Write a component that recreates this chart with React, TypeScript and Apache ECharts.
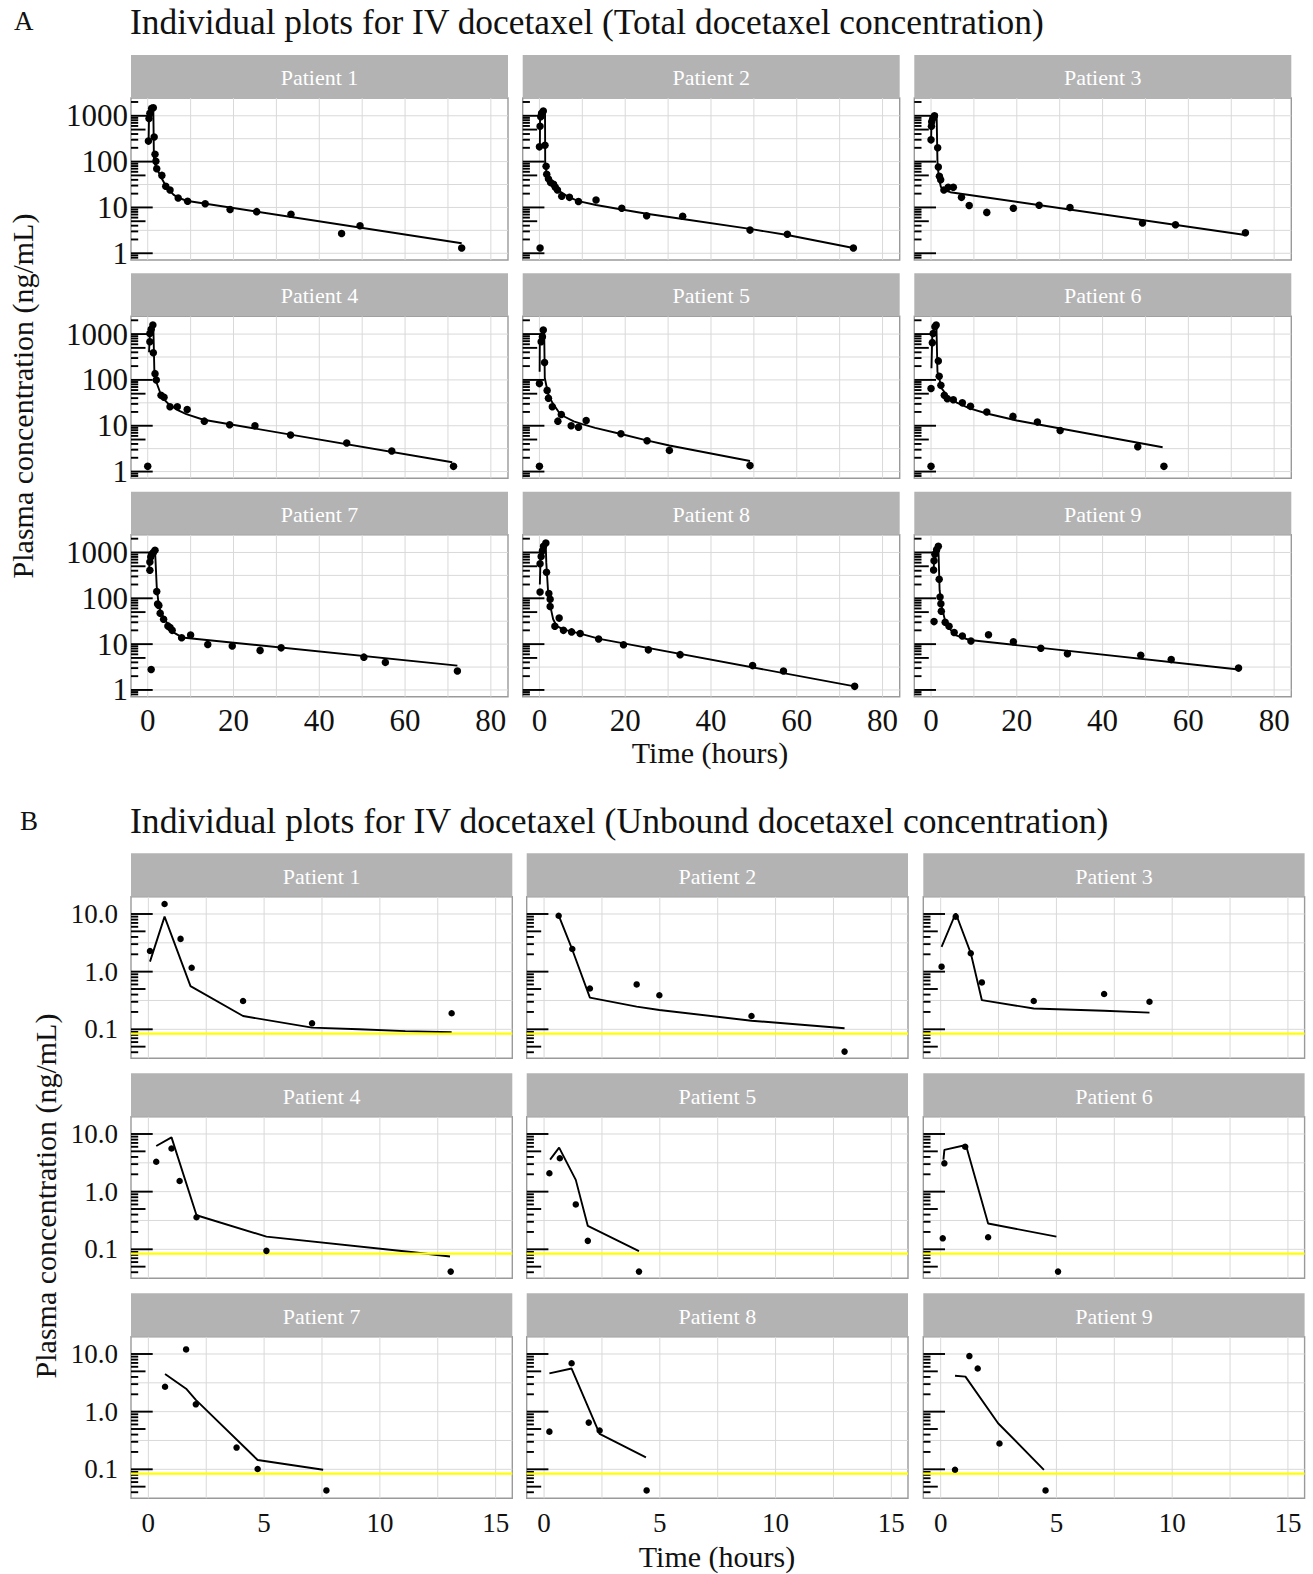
import React, { useEffect, useRef } from 'react';
import * as echarts from 'echarts';

// ---------------- DATA ----------------
const PATIENTS = ['Patient 1', 'Patient 2', 'Patient 3', 'Patient 4', 'Patient 5', 'Patient 6', 'Patient 7', 'Patient 8', 'Patient 9'];

// Panel A: total docetaxel, observed [time h, conc ng/mL]
const totObs1 = [[0.16, 280], [0.3, 870], [0.5, 1130], [0.9, 1450], [1.3, 1500], [1.5, 345], [1.7, 145], [1.9, 102], [2.1, 70], [3.3, 50], [4.2, 29], [5.2, 24], [7.1, 16], [9.3, 13.6], [13.4, 12], [19.2, 9], [25.4, 8.1], [33.4, 7.1], [45.2, 2.7], [49.5, 4], [73.2, 1.3]];
const totObs2 = [[0.15, 1.3], [0.15, 590], [0, 210], [0.3, 950], [0.5, 1130], [0.9, 1270], [1.3, 228], [1.55, 79], [1.7, 53], [2.1, 42], [2.6, 35], [3.3, 32], [3.7, 27.5], [4.2, 24], [5.2, 17.5], [7, 16.6], [9.1, 13.5], [13.2, 14.5], [19.2, 9.6], [25, 6.6], [33.4, 6.4], [49.1, 3.2], [57.8, 2.6], [73.2, 1.3]];
const totObs3 = [[0, 300], [0.1, 590], [0.15, 740], [0.4, 870], [0.8, 1000], [1.55, 200], [1.7, 76], [1.95, 48], [2.25, 40], [3.0, 24], [4.0, 27.5], [5.2, 27.5], [7.1, 16.6], [8.9, 11], [13, 7.8], [19.2, 9.6], [25.2, 11.2], [32.4, 10], [49.3, 4.6], [57, 4.2], [73.3, 2.8]];
const totObs4 = [[0, 1.3], [0.5, 680], [0.5, 1030], [0.8, 1270], [1.2, 1580], [1.3, 390], [1.7, 137], [2.0, 100], [3.1, 46], [3.8, 42], [5.2, 26], [6.9, 26], [9.2, 22.5], [13.2, 12.6], [19.1, 10.5], [25, 10], [33.3, 6.3], [46.4, 4.2], [56.9, 2.8], [71.3, 1.3]];
const totObs5 = [[0, 1.3], [0, 83], [0.4, 680], [0.7, 870], [0.9, 1230], [1.2, 240], [1.8, 59], [2.1, 40], [3.0, 26], [4.3, 12.6], [5.1, 17.6], [7.4, 10], [9.1, 9.3], [10.9, 13], [19.0, 6.7], [25.1, 4.7], [30.3, 2.9], [49.1, 1.35]];
const totObs6 = [[0, 1.3], [0, 65], [0.3, 650], [0.5, 1030], [0.9, 1450], [1.2, 1580], [1.7, 260], [1.9, 120], [2.3, 76], [3.1, 46], [3.8, 39], [5.2, 37], [7.3, 31.6], [9.2, 26.5], [13.0, 20], [19.1, 16], [24.8, 12], [30.1, 7.9], [48.2, 3.5], [54.3, 1.3]];
const totObs7 = [[0.8, 2.8], [0.5, 410], [0.5, 620], [0.7, 800], [0.9, 900], [1.3, 1000], [1.7, 1120], [2.1, 140], [2.3, 75], [2.6, 70], [2.9, 47], [3.7, 35], [4.7, 25], [5.2, 23], [5.7, 20], [7.9, 13.8], [10.0, 15.8], [14.0, 9.8], [19.7, 9.1], [26.2, 7.3], [31.1, 8.3], [50.4, 5.2], [55.4, 4.0], [72.2, 2.6]];
const totObs8 = [[0.15, 137], [0.15, 570], [0.4, 820], [0.7, 1090], [0.95, 1360], [1.5, 1610], [1.65, 370], [2.2, 127], [2.5, 95], [2.5, 66], [3.6, 24.5], [4.6, 37], [5.6, 20], [7.5, 18.5], [9.5, 17], [13.8, 13], [19.6, 9.7], [25.4, 7.5], [32.8, 5.9], [49.7, 3.4], [56.9, 2.6], [73.5, 1.2]];
const totObs9 = [[0.7, 31], [0.6, 415], [0.7, 660], [0.9, 920], [1.3, 1140], [1.7, 1360], [1.9, 260], [2.1, 107], [2.3, 76], [2.4, 52], [3.3, 30], [4.2, 24.5], [5.4, 18], [7.3, 15], [9.3, 11.7], [13.4, 16], [19.2, 11.3], [25.6, 8.1], [31.8, 6.2], [48.9, 5.7], [56.0, 4.6], [71.7, 3.0]];

// Panel A: total docetaxel, model prediction
const totPred1 = [[0.2, 260], [0.3, 900], [0.9, 1400], [1.3, 1550], [1.45, 100], [2, 75], [3, 48], [4, 32], [5, 24], [6, 19], [7, 16.5], [9, 14], [73.2, 1.65]];
const totPred2 = [[0.1, 200], [0.15, 950], [0.9, 1250], [1.3, 1300], [1.35, 85], [1.7, 55], [2.1, 44], [2.6, 37], [3.3, 31], [4.2, 25], [5.2, 21], [7, 16.5], [9.1, 13.7], [13.2, 11.3], [19.2, 9.0], [25, 7.3], [33.4, 5.6], [49.1, 3.4], [57.8, 2.5], [73.2, 1.3]];
const totPred3 = [[0, 250], [0.1, 700], [0.8, 1050], [1.3, 1100], [1.5, 100], [1.8, 45], [2.3, 28], [3, 24], [4.5, 21.5], [73.3, 2.5]];
const totPred4 = [[0.3, 400], [0.5, 1000], [1.1, 1500], [1.3, 1600], [1.55, 150], [2, 90], [3, 50], [4, 36], [5, 29], [7, 22], [9, 18], [13, 13.5], [71, 1.6]];
const totPred5 = [[0.05, 150], [0.1, 900], [0.9, 1250], [1.1, 1300], [1.25, 110], [2, 50], [3, 32], [4.5, 20], [6, 15.5], [8, 12.5], [10, 10.8], [13, 9], [19, 6.6], [25, 4.8], [30.3, 3.7], [49.1, 1.7]];
const totPred6 = [[0.1, 180], [0.3, 1000], [0.9, 1500], [1.25, 1600], [1.5, 150], [2.5, 65], [4, 42], [6, 32], [9, 24], [13, 18.5], [20, 13], [54, 3.4]];
const totPred7 = [[0.3, 400], [0.5, 900], [1.7, 1150], [2.1, 180], [2.6, 65], [3.7, 38], [4.8, 26], [6, 18], [8, 14], [72.2, 3.4]];
const totPred8 = [[0.1, 200], [0.3, 1000], [1.45, 1700], [1.6, 600], [2.0, 150], [2.5, 70], [3.2, 35], [4, 25], [5.5, 21], [9.5, 17], [14, 13], [73.5, 1.2]];
const totPred9 = [[0.6, 400], [0.8, 1000], [1.7, 1450], [2.0, 150], [2.5, 65], [3.2, 35], [4.3, 22], [5.5, 16], [9, 12.3], [71.7, 2.8]];

// Panel B: unbound docetaxel, observed
const unbObs1 = [[0.07, 2.28], [0.7, 14.9], [1.39, 3.7], [1.87, 1.17], [4.09, 0.31], [7.07, 0.127], [13.1, 0.19]];
const unbObs2 = [[0.63, 9.3], [1.22, 2.47], [1.98, 0.51], [4.0, 0.6], [4.98, 0.39], [8.96, 0.17], [12.98, 0.041]];
const unbObs3 = [[0.04, 1.22], [0.65, 9.0], [1.3, 2.08], [1.78, 0.65], [4.02, 0.31], [7.06, 0.41], [9.02, 0.30]];
const unbObs4 = [[0.34, 3.3], [1.0, 5.6], [1.35, 1.53], [2.08, 0.36], [5.1, 0.094], [13.06, 0.041]];
const unbObs5 = [[0.23, 2.08], [0.68, 3.8], [1.37, 0.6], [1.89, 0.14], [4.1, 0.041]];
const unbObs6 = [[0.09, 0.155], [0.16, 3.1], [1.06, 6.0], [2.05, 0.162], [5.07, 0.041]];
const unbObs7 = [[0.72, 2.7], [1.63, 12], [2.05, 1.34], [3.81, 0.238], [4.72, 0.101], [7.69, 0.043]];
const unbObs8 = [[0.23, 0.45], [1.19, 6.9], [1.93, 0.645], [2.4, 0.47], [4.43, 0.043]];
const unbObs9 = [[0.62, 0.098], [1.24, 9.2], [1.6, 5.6], [2.54, 0.28], [4.53, 0.043]];

// Panel B: unbound docetaxel, model prediction
const unbPred1 = [[0.07, 1.49], [0.7, 9.0], [1.82, 0.56], [4.09, 0.17], [7.07, 0.107], [9.1, 0.1], [11.1, 0.093], [13.1, 0.089]];
const unbPred2 = [[0.63, 9.5], [1.22, 2.4], [1.98, 0.354], [4.0, 0.247], [4.98, 0.216], [8.96, 0.141], [12.98, 0.104]];
const unbPred3 = [[0.04, 2.7], [0.65, 10.3], [1.3, 2.1], [1.78, 0.32], [4.02, 0.23], [7.06, 0.21], [9.02, 0.195]];
const unbPred4 = [[0.34, 6.2], [1.0, 8.75], [2.08, 0.39], [5.1, 0.166], [11.45, 0.089], [13.03, 0.075]];
const unbPred5 = [[0.26, 3.6], [0.65, 5.8], [1.37, 1.6], [1.89, 0.254], [4.1, 0.093]];
const unbPred6 = [[0.12, 3.6], [0.16, 5.3], [1.09, 6.45], [2.05, 0.28], [5.0, 0.166]];
const unbPred7 = [[0.72, 4.5], [1.63, 2.5], [2.05, 1.6], [4.72, 0.145], [7.55, 0.098]];
const unbPred8 = [[0.23, 4.6], [1.19, 5.6], [2.4, 0.41], [4.4, 0.161]];
const unbPred9 = [[0.62, 4.2], [1.07, 4.05], [2.48, 0.63], [4.46, 0.098]];

const TOTAL_OBS = [totObs1, totObs2, totObs3, totObs4, totObs5, totObs6, totObs7, totObs8, totObs9];
const TOTAL_PRED = [totPred1, totPred2, totPred3, totPred4, totPred5, totPred6, totPred7, totPred8, totPred9];
const UNB_OBS = [unbObs1, unbObs2, unbObs3, unbObs4, unbObs5, unbObs6, unbObs7, unbObs8, unbObs9];
const UNB_PRED = [unbPred1, unbPred2, unbPred3, unbPred4, unbPred5, unbPred6, unbPred7, unbPred8, unbPred9];

// axis breaks / grid lines
const A_X_GRID = [0, 10, 20, 30, 40, 50, 60, 70, 80];
const A_Y_GRID = [1, 3.1623, 10, 31.623, 100, 316.23, 1000];
const B_X_GRID = [0, 2.5, 5, 7.5, 10, 12.5, 15];
const B_Y_GRID = [0.1, 0.31623, 1, 3.1623, 10];
const LLOQ = 0.084;

const TITLE_A = 'Individual plots for IV docetaxel (Total docetaxel concentration)';
const TITLE_B = 'Individual plots for IV docetaxel (Unbound docetaxel concentration)';
const Y_TITLE = 'Plasma concentration (ng/mL)';
const X_TITLE = 'Time (hours)';

// ---------------- LAYOUT / STYLE ----------------
const FONT = '"Liberation Serif", "Times New Roman", Times, serif';
const STRIP_FILL = '#b3b3b3';
const GRID_COLOR = '#d9d9d9';
const BORDER_COLOR = '#9a9a9a';

const SECTION_A = {
  cols: [131, 522.7, 914.3], width: 377,
  stripTops: [55, 273.3, 491.7], stripH: 43, plotH: 162,
  xMin: -3.9, xMax: 84, yMin: 0.713, yMax: 2443, xStep: 20,
  xGrid: A_X_GRID, yGrid: A_Y_GRID,
  obs: TOTAL_OBS, pred: TOTAL_PRED, lloq: false,
  tickFont: 31, xMargin: 8, yMargin: 3, dot: 7.5,
  yFmt: (v: number) => String(Math.round(v)),
};
const SECTION_B = {
  cols: [131, 526.7, 923.3], width: 381.3,
  stripTops: [853.3, 1073.3, 1293.3], stripH: 43.4, plotH: 161.6,
  xMin: -0.75, xMax: 15.72, yMin: 0.0314, yMax: 19.95, xStep: 5,
  xGrid: B_X_GRID, yGrid: B_Y_GRID,
  obs: UNB_OBS, pred: UNB_PRED, lloq: true,
  tickFont: 27, xMargin: 11, yMargin: 13, dot: 6.5,
  yFmt: (v: number) => v.toFixed(1),
};

function logTicks(min: number, max: number) {
  const out: number[][] = [];
  for (let k = -3; k <= 5; k++) {
    for (let m = 1; m <= 9; m++) {
      const v = m * Math.pow(10, k);
      if (v >= min && v <= max) out.push([v, m === 1 ? 21.7 : m === 5 ? 14.5 : 7.2]);
    }
  }
  return out;
}

function buildOption() {
  const grid: any[] = [];
  const xAxis: any[] = [];
  const yAxis: any[] = [];
  const series: any[] = [];
  const graphic: any[] = [];

  [SECTION_A, SECTION_B].forEach((S) => {
    const ticks = logTicks(S.yMin, S.yMax);
    for (let p = 0; p < 9; p++) {
      const row = Math.floor(p / 3);
      const col = p % 3;
      const gi = grid.length;
      const left = S.cols[col];
      const top = S.stripTops[row] + S.stripH;
      grid.push({
        left, top, width: S.width, height: S.plotH,
        show: true, borderColor: BORDER_COLOR, borderWidth: 1.4, backgroundColor: '#fff',
        containLabel: false, outerBoundsMode: 'none',
      });
      xAxis.push({
        gridIndex: gi, type: 'value', min: S.xMin, max: S.xMax,
        minInterval: S.xStep, maxInterval: S.xStep,
        axisLine: { show: false }, axisTick: { show: false }, splitLine: { show: false },
        axisLabel: {
          show: row === 2, showMinLabel: false, showMaxLabel: false,
          color: '#111', fontFamily: FONT, fontSize: S.tickFont, margin: S.xMargin,
        },
      });
      yAxis.push({
        gridIndex: gi, type: 'log', logBase: 10, min: S.yMin, max: S.yMax,
        axisLine: { show: false }, axisTick: { show: false }, splitLine: { show: false },
        axisLabel: {
          show: col === 0, showMinLabel: false, showMaxLabel: false,
          color: '#111', fontFamily: FONT, fontSize: S.tickFont, margin: S.yMargin,
          formatter: (v: number) => S.yFmt(v),
        },
      });

      // grid lines (major + minor)
      const gridData = [
        ...S.yGrid.map((v) => [S.xMin, v, 0]),
        ...S.xGrid.map((v) => [v, S.yMin, 1]),
      ];
      series.push({
        type: 'custom', xAxisIndex: gi, yAxisIndex: gi, silent: true, z: 1,
        data: gridData,
        renderItem: (params: any, api: any) => {
          const cs = params.coordSys;
          const pt = api.coord([api.value(0), api.value(1)]);
          if (api.value(2) === 0) {
            return { type: 'line', shape: { x1: cs.x, y1: pt[1], x2: cs.x + cs.width, y2: pt[1] }, style: { stroke: GRID_COLOR, lineWidth: 1 } };
          }
          return { type: 'line', shape: { x1: pt[0], y1: cs.y, x2: pt[0], y2: cs.y + cs.height }, style: { stroke: GRID_COLOR, lineWidth: 1 } };
        },
      });

      // log ticks along the left edge
      series.push({
        type: 'custom', xAxisIndex: gi, yAxisIndex: gi, silent: true, z: 2,
        data: ticks.map(([v, len]) => [S.xMin, v, len]),
        renderItem: (params: any, api: any) => {
          const cs = params.coordSys;
          const pt = api.coord([api.value(0), api.value(1)]);
          return { type: 'line', shape: { x1: cs.x, y1: pt[1], x2: cs.x + api.value(2), y2: pt[1] }, style: { stroke: '#000', lineWidth: 1.9 } };
        },
      });

      // prediction line
      series.push({
        type: 'line', xAxisIndex: gi, yAxisIndex: gi, silent: true, z: 3,
        data: S.pred[p], symbol: 'none', lineStyle: { color: '#000', width: 1.9 },
      });

      if (S.lloq) {
        series.push({
          type: 'custom', xAxisIndex: gi, yAxisIndex: gi, silent: true, z: 4,
          data: [[S.xMin, LLOQ]],
          renderItem: (params: any, api: any) => {
            const cs = params.coordSys;
            const pt = api.coord([api.value(0), api.value(1)]);
            return { type: 'line', shape: { x1: cs.x, y1: pt[1], x2: cs.x + cs.width, y2: pt[1] }, style: { stroke: '#ffff00', lineWidth: 2.4 } };
          },
        });
      }

      // observations
      series.push({
        type: 'scatter', xAxisIndex: gi, yAxisIndex: gi, silent: true, z: 5,
        data: S.obs[p], symbol: 'circle', symbolSize: S.dot,
        itemStyle: { color: '#000', opacity: 1 },
      });

      // strip
      graphic.push({
        type: 'rect', silent: true, z: 10,
        shape: { x: left, y: S.stripTops[row], width: S.width, height: S.stripH },
        style: { fill: STRIP_FILL },
      });
      graphic.push({
        type: 'text', silent: true, z: 11,
        x: left + S.width / 2, y: S.stripTops[row] + S.stripH / 2 + 1,
        style: { text: PATIENTS[p], fill: '#fff', fontFamily: FONT, fontSize: 22, align: 'center', verticalAlign: 'middle' },
      });
    }
  });

  const txt = (text: string, x: number, y: number, size: number, align = 'left', rotation = 0) => ({
    type: 'text', silent: true, z: 12, x, y, rotation,
    style: { text, fill: '#111', fontFamily: FONT, fontSize: size, align, verticalAlign: 'middle' },
  });
  graphic.push(txt('A', 14, 21, 27));
  graphic.push(txt(TITLE_A, 130, 22, 35.4));
  graphic.push(txt('B', 20, 821, 27));
  graphic.push(txt(TITLE_B, 130, 821, 35.6));
  graphic.push(txt(Y_TITLE, 22, 396, 30, 'center', Math.PI / 2));
  graphic.push(txt(Y_TITLE, 45, 1196, 30, 'center', Math.PI / 2));
  graphic.push(txt(X_TITLE, 710, 752, 30, 'center'));
  graphic.push(txt(X_TITLE, 717, 1556, 30, 'center'));

  return {
    animation: false,
    backgroundColor: '#ffffff',
    grid, xAxis, yAxis, series, graphic,
  };
}

export default function App() {
  const ref = useRef<HTMLDivElement>(null);
  useEffect(() => {
    if (!ref.current) return;
    const chart = echarts.init(ref.current, undefined, { renderer: 'svg' });
    chart.setOption(buildOption() as any);
    return () => chart.dispose();
  }, []);
  return <div ref={ref} style={{ position: 'absolute', left: 0, top: 0, width: 1313, height: 1574, background: '#fff' }} />;
}
